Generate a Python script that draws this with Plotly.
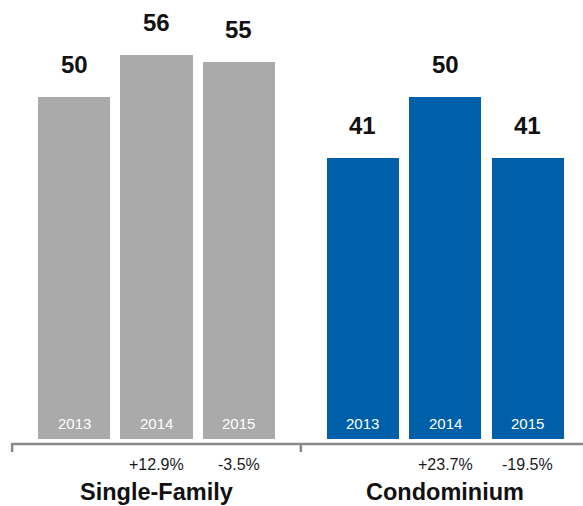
import plotly.graph_objects as go

# Data
groups = ["Single-Family", "Condominium"]
years = ["2013", "2014", "2015"]
values = {
    "Single-Family": [50, 56, 55],
    "Condominium": [41, 50, 41],
}
changes = {
    "Single-Family": ["", "+12.9%", "-3.5%"],
    "Condominium": ["", "+23.7%", "-19.5%"],
}
colors = {"Single-Family": "#AAAAAA", "Condominium": "#005FA9"}

FONT = "Liberation Sans, Arial, Helvetica, sans-serif"
GROUP_GAP = 3.5  # offset between the first bars of consecutive groups

fig = go.Figure()
annotations = []

for gi, g in enumerate(groups):
    xs = [gi * GROUP_GAP + i for i in range(len(years))]
    fig.add_trace(go.Bar(
        x=xs, y=values[g], width=0.873,
        marker=dict(color=colors[g], line=dict(width=0)),
        hoverinfo="skip", showlegend=False,
    ))
    for x, yr, v, ch in zip(xs, years, values[g], changes[g]):
        # value above bar
        annotations.append(dict(
            x=x, y=v, xref="x", yref="y", text=f"<b>{v}</b>",
            showarrow=False, yanchor="middle", yshift=32.5,
            font=dict(family=FONT, size=24, color="#111111"),
        ))
        # year inside bar
        annotations.append(dict(
            x=x, y=0, xref="x", yref="y", text=yr,
            showarrow=False, yanchor="middle", yshift=16,
            font=dict(family=FONT, size=15, color="#FFFFFF"),
        ))
        # year-over-year change under axis
        if ch:
            annotations.append(dict(
                x=x, y=0, xref="x", yref="paper", text=ch,
                showarrow=False, yanchor="middle", yshift=-25.5,
                font=dict(family=FONT, size=16, color="#1A1A1A"),
            ))
    # group label
    annotations.append(dict(
        x=gi * GROUP_GAP + 1, y=0, xref="x", yref="paper",
        text=f"<b>{g}</b>", showarrow=False, yanchor="middle", yshift=-53,
        font=dict(family=FONT, size=23.5, color="#111111"),
    ))

# Baseline with bracket ticks between groups
AX_COLOR = "#8A8A8A"
shapes = [dict(
    type="line", xref="x", yref="paper", ysizemode="pixel", yanchor=0,
    x0=-0.75, x1=len(groups) * GROUP_GAP - 0.75, y0=-5, y1=-5,
    line=dict(color=AX_COLOR, width=2.5),
)]
for k in range(len(groups) + 1):
    xt = k * GROUP_GAP - 0.75
    shapes.append(dict(
        type="line", xref="x", yref="paper", ysizemode="pixel", yanchor=0,
        x0=xt, x1=xt, y0=-4, y1=-13,
        line=dict(color=AX_COLOR, width=2.5),
    ))

fig.update_layout(
    width=583, height=506,
    margin=dict(l=0, r=0, t=0, b=67),
    paper_bgcolor="white", plot_bgcolor="white",
    xaxis=dict(range=[-0.897, 6.170], visible=False, fixedrange=True),
    yaxis=dict(range=[0, 64.1], visible=False, fixedrange=True),
    annotations=annotations, shapes=shapes,
    bargap=0,
)

fig.write_html("out.html")
